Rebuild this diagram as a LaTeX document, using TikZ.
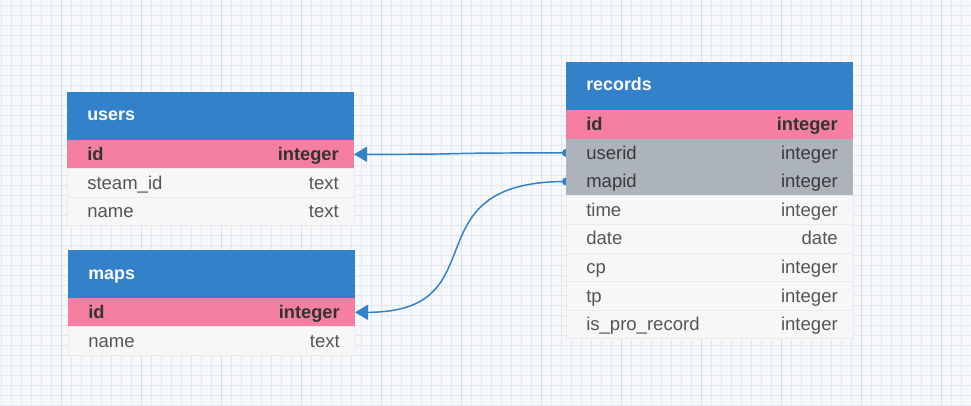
\documentclass[tikz,border=0pt]{standalone}
\usepackage{fontspec}
\setmainfont{Liberation Sans}
\usetikzlibrary{arrows.meta}
\definecolor{bgc}{HTML}{F7F8F9}
\definecolor{gridminor}{HTML}{E1E8F4}
\definecolor{gridmajor}{HTML}{D5E0F0}
\definecolor{hdr}{HTML}{3381C9}
\definecolor{pk}{HTML}{F47FA0}
\definecolor{fk}{HTML}{ADB3BA}
\definecolor{bodyc}{HTML}{F7F7F7}
\definecolor{sepc}{HTML}{EBEBEB}
\definecolor{darkt}{HTML}{333333}
\definecolor{fkt}{HTML}{3A3A3A}
\definecolor{midt}{HTML}{555555}
\definecolor{linkc}{HTML}{3381C9}
\pgfdeclarelayer{gridlayer}
\pgfdeclarelayer{linklayer}
\pgfsetlayers{gridlayer,linklayer,main}
\tikzset{
  box/.style={anchor=north west, inner sep=0pt, outer sep=0pt, minimum width=215.25pt},
  hdrbox/.style={box, fill=hdr, minimum height=36pt},
  pkbox/.style={box, fill=pk, minimum height=21.45pt},
  fkbox/.style={box, fill=fk, minimum height=21.45pt},
  bodybox/.style={box, fill=bodyc, draw=sepc, line width=0.5pt, minimum height=21.45pt},
  basetxt/.style={inner sep=0pt, font=\fontsize{13.9}{16}\selectfont},
  hdrtxt/.style={inner sep=0pt, anchor=base west, text=white, font=\fontsize{13.4}{16}\selectfont\bfseries},
  pkl/.style={basetxt, anchor=base west, text=darkt, font=\fontsize{13.7}{16}\selectfont\bfseries},
  pkr/.style={basetxt, anchor=base east, text=darkt, font=\fontsize{13.7}{16}\selectfont\bfseries},
  fkl/.style={basetxt, anchor=base west, text=fkt},
  fkr/.style={basetxt, anchor=base east, text=fkt},
  bl/.style={basetxt, anchor=base west, text=midt},
  br/.style={basetxt, anchor=base east, text=midt},
  link/.style={draw=linkc, line width=1.1pt, -{Triangle[length=9.75pt,width=11.25pt]}},
  dotc/.style={fill=linkc},
  minorline/.style={draw=gridminor, line width=0.5pt},
  majorline/.style={draw=gridmajor, line width=0.6pt}
}
% name, y, x, box style, left style, right style, left text, right text
\newcommand\tabrow[8]{%
  \node[#4] (#1) at (#3,#2) {};
  \node[#5] (#1-n) at ([xshift=15pt,yshift=-4.6pt]#1.west) {#7};
  \node[#6] (#1-t) at ([xshift=-11.25pt,yshift=-4.6pt]#1.east) {#8};}
\newcommand\tabhead[4]{%
  \node[hdrbox] (#1) at (#3,#2) {};
  \node[hdrtxt] (#1-n) at ([xshift=15pt,yshift=-3.75pt]#1.west) {#4};}
\begin{document}
\begin{tikzpicture}[x=0.75pt, y=-0.75pt]
\useasboundingbox (0,0) rectangle (971,406);
\begin{pgfonlayer}{gridlayer}
  \fill[bgc] (0,0) rectangle (971,406);
  \foreach \x in {1,11,...,971} \draw[minorline] (\x,0) -- (\x,406);
  \foreach \y in {5,15,...,405} \draw[minorline] (0,\y) -- (971,\y);
  \foreach \x in {61,141,...,941} \draw[majorline] (\x,0) -- (\x,406);
\end{pgfonlayer}

% users
\tabhead{users}{92}{67}{users}
\tabrow{users-id}{140}{67}{pkbox}{pkl}{pkr}{id}{integer}
\tabrow{users-steam}{168.6}{67}{bodybox}{bl}{br}{steam\_id}{text}
\tabrow{users-name}{197.2}{67}{bodybox}{bl}{br}{name}{text}

% maps
\tabhead{maps}{250}{68}{maps}
\tabrow{maps-id}{298}{68}{pkbox}{pkl}{pkr}{id}{integer}
\tabrow{maps-name}{326.6}{68}{bodybox}{bl}{br}{name}{text}

% records
\tabhead{records}{62}{566}{records}
\tabrow{records-id}{110}{566}{pkbox}{pkl}{pkr}{id}{integer}
\tabrow{records-userid}{138.6}{566}{fkbox}{fkl}{fkr}{userid}{integer}
\tabrow{records-mapid}{167.2}{566}{fkbox}{fkl}{fkr}{mapid}{integer}
\tabrow{records-time}{195.8}{566}{bodybox}{bl}{br}{time}{integer}
\tabrow{records-date}{224.4}{566}{bodybox}{bl}{br}{date}{date}
\tabrow{records-cp}{253}{566}{bodybox}{bl}{br}{cp}{integer}
\tabrow{records-tp}{281.6}{566}{bodybox}{bl}{br}{tp}{integer}
\tabrow{records-pro}{310.2}{566}{bodybox}{bl}{br}{is\_pro\_record}{integer}

\begin{pgfonlayer}{linklayer}
  \fill[dotc] (records-userid.west) circle[radius=3pt];
  \fill[dotc] (records-mapid.west) circle[radius=3pt];
  \draw[link] (records-userid.west) .. controls +(-120pt,0pt) and +(110pt,0pt) .. (users-id.east);
  \draw[link] (records-mapid.west) .. controls +(-120pt,0pt) and +(110pt,0pt) .. (maps-id.east);
\end{pgfonlayer}
\end{tikzpicture}
\end{document}
